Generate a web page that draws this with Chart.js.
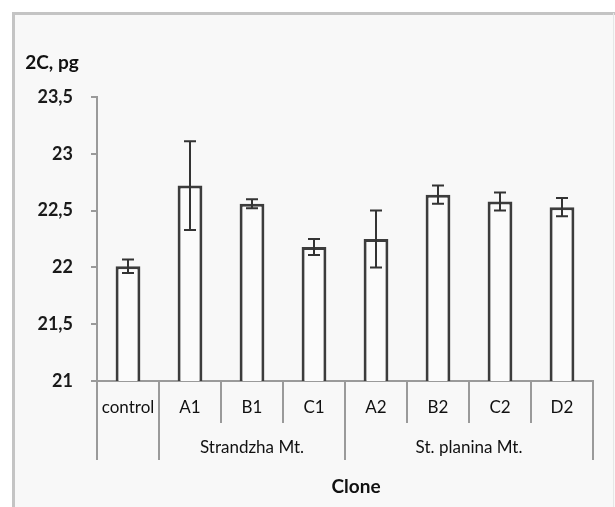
<!DOCTYPE html>
<html>
<head>
<meta charset="utf-8">
<script src="https://cdn.jsdelivr.net/npm/chart.js@4/dist/chart.umd.min.js"></script>
<style>
  html, body { margin: 0; padding: 0; background: #ffffff; }
  #c { display: block; }
</style>
</head>
<body>
<canvas id="c" width="615" height="507"></canvas>
<script>
// ---- data ----
const categories = ['control', 'A1', 'B1', 'C1', 'A2', 'B2', 'C2', 'D2'];
const means      = [22.01, 22.72, 22.56, 22.18, 22.25, 22.64, 22.58, 22.53];
const errors     = [0.06, 0.39, 0.04, 0.07, 0.25, 0.08, 0.08, 0.08];
const groupLabels = ['', 'Strandzha Mt.', 'St. planina Mt.'];
const groupSizes  = [1, 3, 4];
const yTicks = [21, 21.5, 22, 22.5, 23, 23.5];
const yTitle = '2C, pg';
const xTitle = 'Clone';

const FONT = 'Lato, "Liberation Sans", sans-serif';
const fmt = v => String(v).replace('.', ',');

const framePlugin = {
  id: 'frame',
  beforeDraw(chart) {
    const ctx = chart.ctx;
    ctx.save();
    ctx.fillStyle = '#ffffff';
    ctx.fillRect(0, 0, chart.width, chart.height);
    ctx.fillStyle = '#f8f8f8';
    ctx.fillRect(13, 13, chart.width - 13, chart.height - 13);
    ctx.strokeStyle = '#c4c4c4';
    ctx.lineWidth = 3;
    ctx.beginPath();
    ctx.moveTo(13.5, chart.height);
    ctx.lineTo(13.5, 13.5);
    ctx.lineTo(chart.width, 13.5);
    ctx.stroke();
    ctx.strokeStyle = '#e6e6e6';
    ctx.lineWidth = 1;
    ctx.beginPath();
    ctx.moveTo(613.5, 13);
    ctx.lineTo(613.5, chart.height);
    ctx.stroke();
    ctx.restore();
  }
};

const errorBarPlugin = {
  id: 'errorBars',
  afterDatasetsDraw(chart) {
    const ctx = chart.ctx;
    const y = chart.scales.y;
    const meta = chart.getDatasetMeta(0);
    ctx.save();
    ctx.strokeStyle = '#333333';
    ctx.lineWidth = 2;
    meta.data.forEach((bar, i) => {
      const x = Math.round(bar.x);
      const top = y.getPixelForValue(means[i] + errors[i]);
      const bot = y.getPixelForValue(means[i] - errors[i]);
      ctx.beginPath();
      ctx.moveTo(x, top); ctx.lineTo(x, bot);
      ctx.moveTo(x - 6, top); ctx.lineTo(x + 6, top);
      ctx.moveTo(x - 6, bot); ctx.lineTo(x + 6, bot);
      ctx.stroke();
    });
    ctx.restore();
  }
};

const xAxisPlugin = {
  id: 'multiAxis',
  afterDraw(chart) {
    const ctx = chart.ctx;
    const xs = chart.scales.x;
    const area = chart.chartArea;
    const half = (xs.getPixelForValue(1) - xs.getPixelForValue(0)) / 2;
    const base = area.bottom;
    ctx.save();
    ctx.strokeStyle = '#9a9a9a';
    ctx.lineWidth = 2;
    // group boundaries (long lines)
    const longIdx = new Set();
    let acc = 0;
    longIdx.add(0);
    groupSizes.forEach(s => { acc += s; longIdx.add(acc); });
    for (let i = 0; i <= categories.length; i++) {
      const px = Math.round(xs.getPixelForValue(i) - half);
      const len = longIdx.has(i) ? 79 : 42;
      ctx.beginPath();
      ctx.moveTo(px, base);
      ctx.lineTo(px, base + len);
      ctx.stroke();
    }
    // category labels
    ctx.fillStyle = '#111111';
    ctx.font = '17px ' + FONT;
    ctx.textAlign = 'center';
    ctx.textBaseline = 'middle';
    categories.forEach((c, i) => {
      ctx.fillText(c, xs.getPixelForValue(i), base + 27);
    });
    // group labels
    let start = 0;
    groupSizes.forEach((s, g) => {
      const l = xs.getPixelForValue(start) - half;
      const r = xs.getPixelForValue(start + s - 1) + half;
      if (groupLabels[g]) ctx.fillText(groupLabels[g], (l + r) / 2, base + 67);
      start += s;
    });
    // titles
    ctx.font = 'bold 19px ' + FONT;
    ctx.fillText(xTitle, 356, 487);
    ctx.fillText(yTitle, 52, 63);
    ctx.restore();
  }
};

new Chart(document.getElementById('c'), {
  type: 'bar',
  data: {
    labels: categories,
    datasets: [{
      data: means,
      backgroundColor: '#fbfbfb',
      borderColor: '#3c3c3c',
      borderWidth: 3,
      categoryPercentage: 1.0,
      barPercentage: 0.4
    }]
  },
  options: {
    responsive: false,
    devicePixelRatio: 1,
    animation: false,
    layout: { padding: { left: 0, right: 22, top: 97, bottom: 0 } },
    plugins: { legend: { display: false }, tooltip: { enabled: false }, title: { display: false } },
    scales: {
      x: {
        ticks: { display: false },
        grid: { display: false, drawTicks: false },
        border: { display: true, color: '#9a9a9a', width: 2 },
        afterFit(scale) { scale.height = 126; }
      },
      y: {
        min: 21, max: 23.5,
        afterBuildTicks(scale) { scale.ticks = yTicks.map(v => ({ value: v })); },
        ticks: {
          padding: 18,
          color: '#1a1a1a',
          font: { family: FONT, size: 18, weight: 'bold' },
          callback: v => fmt(v)
        },
        grid: { drawOnChartArea: false, drawTicks: true, tickLength: 6, color: '#9a9a9a', lineWidth: 2 },
        border: { display: true, color: '#9a9a9a', width: 2 },
        afterFit(scale) { scale.width = 97; }
      }
    }
  },
  plugins: [framePlugin, errorBarPlugin, xAxisPlugin]
});
</script>
</body>
</html>
